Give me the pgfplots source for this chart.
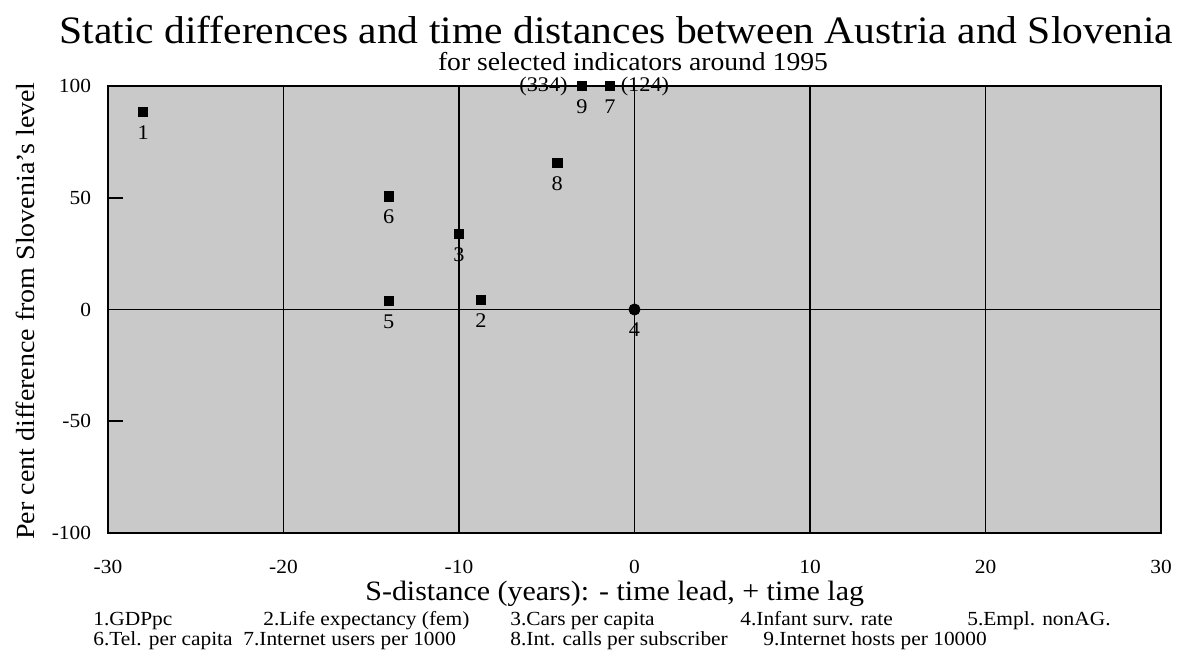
\documentclass[border=0pt]{standalone}
\usepackage{fontspec}
\setmainfont[FakeStretch=1.07]{Liberation Serif}
\usepackage{pgfplots}
\pgfplotsset{compat=1.18}
\begin{document}
\begin{tikzpicture}
\path[use as bounding box] (-64.8pt,-73.2pt) rectangle (654pt,319.8pt);
\begin{axis}[
  at={(0,0)}, anchor=south west,
  scale only axis, width=631.8pt, height=268.2pt,
  xmin=-30, xmax=30, ymin=-100, ymax=100,
  xtick={-30,-20,...,30}, ytick={-100,-50,0,50,100},
  /pgf/number format/assume math mode=true,
  ticklabel style={font=\fontsize{12}{14}\selectfont, inner sep=1pt},
  xticklabel style={anchor=base, yshift=-24pt},
  yticklabel style={anchor=east},
  yticklabel shift=9pt,
  xmajorgrids, grid style={black, line width=1pt},
  extra y ticks={0}, extra y tick labels={}, extra y tick style={grid=major},
  xtick style={draw=none},
  ytick style={black, line width=1pt},
  major tick length=9pt, tick align=inside, ytick pos=left,
  axis line style={line width=1.2pt},
  axis background/.style={fill=black!21},
  clip=false,
]
\addplot[only marks, mark=square*, mark size=2.8pt, black,
  nodes near coords, point meta=explicit symbolic,
  every node near coord/.style={anchor=center, yshift=-12.6pt, font=\fontsize{12.5}{14}\selectfont, text=black}]
  table[meta=label] {
x y label
-28 88.5 1
-8.75 4.3 2
-10 34 3
-14 3.8 5
-14 50.7 6
-1.4 100 7
-4.4 65.7 8
-3 100 9
};
\addplot[only marks, mark=*, mark size=3.4pt, black,
  nodes near coords, point meta=explicit symbolic,
  every node near coord/.style={anchor=center, yshift=-12pt, font=\fontsize{12.5}{14}\selectfont, text=black}]
  table[meta=label] {
x y label
0 0 4
};
\addplot[draw=none,
  nodes near coords, point meta=explicit symbolic,
  every node near coord/.style={anchor=east, xshift=-5pt, font=\fontsize{12.5}{14}\selectfont, text=black}]
  table[meta=label] {
x y label
-3 100 (334)
};
\addplot[draw=none,
  nodes near coords, point meta=explicit symbolic,
  every node near coord/.style={anchor=west, xshift=3pt, font=\fontsize{12.5}{14}\selectfont, text=black}]
  table[meta=label] {
x y label
-1.4 100 (124)
};
\end{axis}
\node[anchor=base, inner sep=0pt, font=\fontsize{23.3}{26}\selectfont] at (305pt,293.5pt) {Static differences and time distances between Austria and Slovenia};
\node[anchor=base, inner sep=0pt, font=\fontsize{15.5}{18}\selectfont] at (315pt,277.5pt) {for selected indicators around 1995};
\node[anchor=base, inner sep=0pt, font=\fontsize{16.8}{20}\selectfont] at (304pt,-40.5pt) {S-distance (years): - time lead, + time lag};
\node[rotate=90, inner sep=0pt, font=\fontsize{15.7}{18}\selectfont] at (-49.8pt,133.2pt) {Per cent difference from Slovenia's level};
\begin{scope}[every node/.style={anchor=base west, inner sep=0pt, font=\fontsize{12}{14}\selectfont}]
\node at (-9pt,-55.2pt) {1.GDPpc};
\node at (93pt,-55.2pt) {2.Life expectancy (fem)};
\node at (241.2pt,-55.2pt) {3.Cars per capita};
\node at (379.2pt,-55.2pt) {4.Infant surv. rate};
\node at (515.4pt,-55.2pt) {5.Empl. nonAG.};
\node at (-9pt,-67.2pt) {6.Tel. per capita};
\node at (81pt,-67.2pt) {7.Internet users per 1000};
\node at (241.2pt,-67.2pt) {8.Int. calls per subscriber};
\node at (393pt,-67.2pt) {9.Internet hosts per 10000};
\end{scope}
\end{tikzpicture}
\end{document}
